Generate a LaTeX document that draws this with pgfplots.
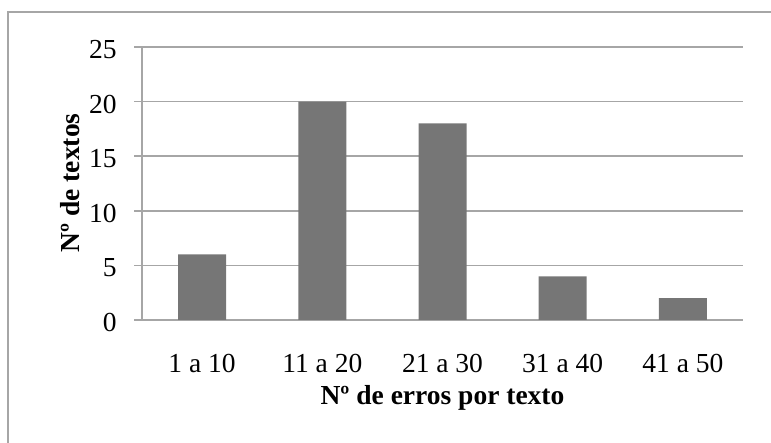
\documentclass[border=0pt]{standalone}
\usepackage{fontspec}
\setmainfont{Liberation Serif}
\usepackage{pgfplots}
\pgfplotsset{compat=1.18}
\definecolor{barc}{HTML}{767676}
\definecolor{gridc}{HTML}{A6A6A6}
\begin{document}
\begin{tikzpicture}
\useasboundingbox (0,0) rectangle (385.5pt,221.5pt);
\draw[gridc, line width=0.75pt] (4pt,-20pt) -- (4pt,215.5pt) -- (400pt,215.5pt);
\begin{axis}[
  at={(71pt,61.5pt)}, anchor=south west,
  scale only axis, width=300.5pt, height=136.5pt,
  xmin=0.5, xmax=5.5, ymin=0, ymax=25,
  ytick={0,5,10,15,20,25},
  xtick={1,2,3,4,5},
  xticklabels={1 a 10, 11 a 20, 21 a 30, 31 a 40, 41 a 50},
  axis lines*=left,
  axis line style={gridc, line width=0.75pt},
  ymajorgrids, grid style={gridc, line width=0.75pt},
  xtick style={draw=none},
  ytick style={gridc, line width=0.75pt},
  tick align=outside, major tick length=4pt,
  /pgf/number format/assume math mode=true,
  font=\fontsize{13.75}{16}\selectfont,
  xticklabel style={anchor=north, inner sep=0pt, yshift=-13pt},
  yticklabel style={anchor=east, inner sep=0pt, xshift=-8.5pt, yshift=-1.2pt},
  xlabel={\bfseries Nº de erros por texto},
  ylabel={\bfseries Nº de textos},
  xlabel style={at={(axis description cs:0.5,-0.2857)}, anchor=center, inner sep=0pt},
  ylabel style={at={(axis description cs:-0.1198,0.502)}, anchor=center, rotate=0, inner sep=0pt},
  ybar, bar width=24pt, bar shift=0pt,
]
\addplot[fill=barc, draw=none] coordinates {(1,6) (2,20) (3,18) (4,4) (5,2)};
\end{axis}
\end{tikzpicture}
\end{document}
